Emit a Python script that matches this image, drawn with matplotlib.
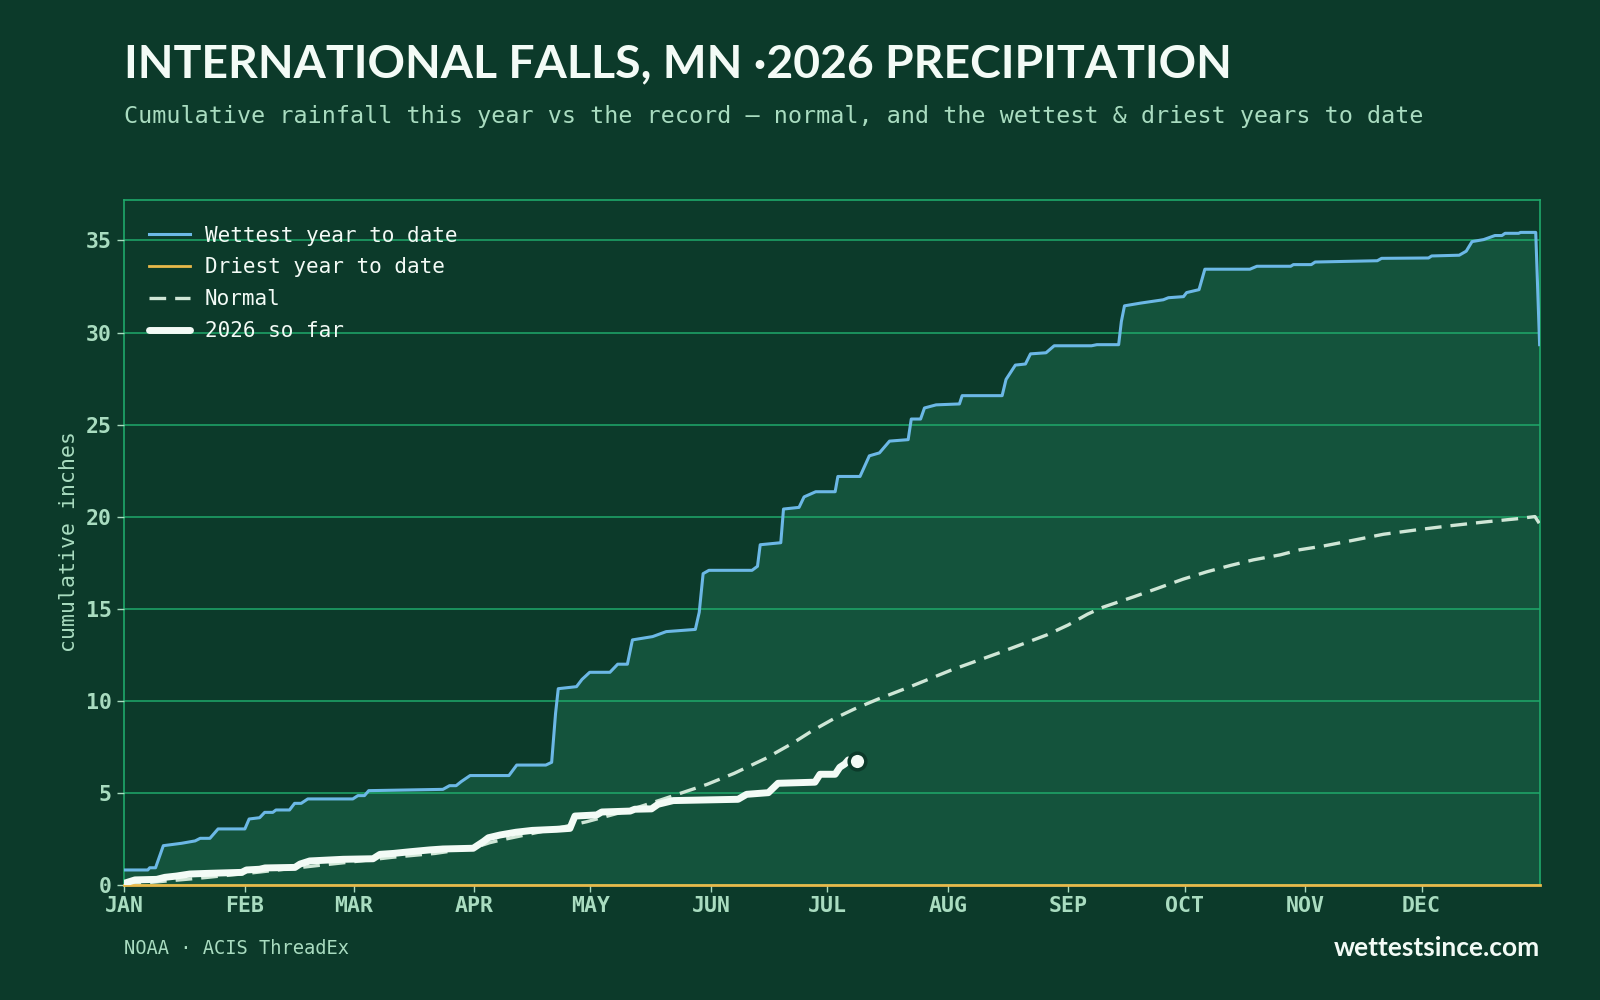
import matplotlib
matplotlib.use("Agg")
import matplotlib.pyplot as plt

# ---------------- data ----------------
month_labels = ["JAN", "FEB", "MAR", "APR", "MAY", "JUN", "JUL", "AUG", "SEP", "OCT", "NOV", "DEC"]
month_start_days = [0, 31, 59, 90, 120, 151, 181, 212, 243, 273, 304, 334]

wettest_days = [0, 6, 6.5, 8, 10, 14.7, 18.2, 19.5, 22, 24.1,
                31, 32.1, 34.8, 36.1, 38.2, 39, 42.5, 43.8, 45.5, 47.2,
                58.8, 60.1, 61.8, 62.9, 82, 83.7, 85.4, 86.7, 89, 99,
                101, 108.5, 110, 111, 111.7, 116.4, 117.8, 119.8, 125, 127,
                129.5, 130.8, 136, 139.5, 147, 148, 149, 150.5, 161.6, 163,
                163.7, 169, 169.7, 173.7, 175, 178, 183, 183.7, 189.4, 191.8,
                194.4, 197, 201.8, 202.6, 205, 206, 209, 215, 215.7, 226,
                227, 229.4, 232, 233.3, 237.3, 239.4, 249, 250.4, 256, 256.7,
                257.5, 261.7, 267.5, 268.8, 272.7, 273.5, 276.7, 278.2, 289.8, 291.6,
                300.3, 301, 305.6, 306.6, 322.6, 323.7, 335.8, 336.6, 343.7, 345.5,
                347, 350, 352.9, 354.7, 355.5, 359, 359.5, 363.4, 364.4]
wettest_vals = [0.80, 0.80, 0.92, 0.92, 2.12, 2.25, 2.38, 2.52, 2.52, 3.03,
                3.03, 3.57, 3.64, 3.93, 3.93, 4.06, 4.06, 4.42, 4.42, 4.66,
                4.66, 4.84, 4.84, 5.11, 5.18, 5.38, 5.38, 5.60, 5.93, 5.93,
                6.50, 6.50, 6.65, 9.30, 10.65, 10.76, 11.15, 11.54, 11.54, 11.98,
                11.98, 13.30, 13.48, 13.75, 13.87, 14.80, 16.90, 17.08, 17.08, 17.30,
                18.47, 18.58, 20.41, 20.50, 21.07, 21.35, 21.35, 22.18, 22.18, 23.30,
                23.46, 24.10, 24.18, 25.30, 25.30, 25.90, 26.07, 26.12, 26.57, 26.57,
                27.45, 28.23, 28.29, 28.84, 28.90, 29.28, 29.28, 29.34, 29.34, 30.60,
                31.45, 31.60, 31.78, 31.89, 31.95, 32.17, 32.33, 33.44, 33.44, 33.60,
                33.60, 33.69, 33.69, 33.83, 33.90, 34.03, 34.05, 34.16, 34.20, 34.42,
                34.94, 35.05, 35.27, 35.27, 35.39, 35.39, 35.44, 35.44, 29.34]

driest_days = [0, 364.4]
driest_vals = [0.0, 0.0]

normal_days = [0, 19, 31, 51, 59, 69, 80, 90, 94, 97,
               110, 119, 130, 138, 150, 157, 165, 172, 177, 182.5,
               188, 194, 202, 213, 225, 237.5, 243, 248, 252, 260,
               266, 272.6, 278.7, 284.7, 290.7, 297.6, 302.7, 308.7, 315.6, 324.2,
               332.8, 341.3, 349.9, 358.5, 363.2, 364.3]
normal_vals = [0.0, 0.35, 0.6, 1.07, 1.25, 1.49, 1.7, 2.0, 2.28, 2.43,
               3.0, 3.42, 4.05, 4.6, 5.45, 6.05, 6.85, 7.68, 8.35, 9.0,
               9.55, 10.08, 10.73, 11.67, 12.58, 13.57, 14.11, 14.7, 15.08, 15.65,
               16.1, 16.6, 17.0, 17.34, 17.65, 17.92, 18.2, 18.4, 18.68, 19.04,
               19.28, 19.5, 19.7, 19.88, 20.0, 19.64]

y2026_days = [0, 2.7, 8.3, 10.4, 13.4, 16.8, 22, 30.2, 31.4, 34.8,
              36.2, 43.9, 45.2, 47.7, 56.3, 64, 65.8, 69.3, 73.5, 78.6,
              82, 89.8, 92.4, 93.7, 96.7, 100.8, 105, 111.3, 114.7, 116,
              121.6, 122.9, 130.2, 131.4, 135.7, 137.4, 141.3, 158, 160.2, 165.8,
              168.3, 177.8, 179.1, 183, 184.2, 185.5, 186.4, 188.6]
y2026_vals = [0.08, 0.26, 0.29, 0.40, 0.47, 0.58, 0.62, 0.67, 0.80, 0.84,
              0.91, 0.94, 1.12, 1.29, 1.38, 1.41, 1.65, 1.70, 1.79, 1.89,
              1.94, 1.98, 2.34, 2.55, 2.70, 2.85, 2.95, 3.01, 3.06, 3.73,
              3.79, 3.95, 4.00, 4.10, 4.12, 4.37, 4.57, 4.64, 4.91, 5.00,
              5.51, 5.57, 6.00, 6.00, 6.38, 6.56, 6.78, 6.70]

y_ticks = [0, 5, 10, 15, 20, 25, 30, 35]

# ---------------- style ----------------
BG = "#0c3a2a"
FILL = "#14533c"
GRID = "#1fa86a"
TICK = "#a9dcc0"
WHITE = "#f3fbf6"
BLUE = "#6cb8e6"
GOLD = "#e8b84a"
NORMAL = "#cfe6d6"
MONO = "DejaVu Sans Mono"

fig = plt.figure(figsize=(16, 10), dpi=100, facecolor=BG)
ax = fig.add_axes([0.0778, 0.1153, 0.8847, 0.6847])
ax.set_facecolor(BG)

ax.fill_between(wettest_days, 0, wettest_vals, color=FILL, lw=0, zorder=1)
ax.grid(axis="y", color=GRID, lw=1.1, zorder=2)
ax.set_axisbelow(False)

ax.plot(wettest_days, wettest_vals, color=BLUE, lw=2.2, zorder=4,
        label="Wettest year to date")
ax.plot(driest_days, driest_vals, color=GOLD, lw=2.0, zorder=5, clip_on=False,
        label="Driest year to date")
ax.plot(normal_days, normal_vals, color=NORMAL, lw=2.4, ls=(0, (5, 2.7)), zorder=4,
        label="Normal")
ax.plot(y2026_days, y2026_vals, color=WHITE, lw=5, zorder=6, solid_capstyle="round",
        solid_joinstyle="round", label="2026 so far")
ax.plot([y2026_days[-1]], [y2026_vals[-1]], "o", ms=12, mfc=WHITE, mec="#0c3a2a",
        mew=2.5, zorder=7)

ax.set_xlim(0, 364.5)
ax.set_ylim(0, 37.2)
ax.set_xticks(month_start_days)
ax.set_xticklabels(month_labels)
ax.set_yticks(y_ticks)
ax.tick_params(axis="both", colors=TICK, length=5, width=1, labelsize=15.5, pad=4)
for lab in ax.get_xticklabels() + ax.get_yticklabels():
    lab.set_fontfamily(MONO)
    lab.set_fontweight("bold")
    lab.set_color(TICK)
ax.tick_params(axis="x", pad=3)
for s in ax.spines.values():
    s.set_color(GRID)
    s.set_linewidth(1.2)

leg = ax.legend(loc="upper left", bbox_to_anchor=(0.004, 0.99), frameon=False,
                prop={"family": MONO, "size": 15.1}, handlelength=1.95,
                handletextpad=0.72, labelspacing=0.56)
for t in leg.get_texts():
    t.set_color(WHITE)

fig.text(0.0778, 0.9225, "INTERNATIONAL FALLS, MN \u00b72026 PRECIPITATION",
         family="Lato", weight="bold", size=33.4, color=WHITE, va="baseline", ha="left")
fig.text(0.0778, 0.884,
         "Cumulative rainfall this year vs the record \u2014 normal, and the wettest & driest years to date",
         family=MONO, size=16.8, color=TICK, va="center", ha="left")
fig.text(0.043, 0.459, "cumulative inches", family=MONO, size=15.5, color=TICK,
         rotation=90, va="center", ha="center")
fig.text(0.0778, 0.052, "NOAA \u00b7 ACIS ThreadEx", family=MONO, size=13.5, color=TICK,
         va="center", ha="left")
fig.text(0.9625, 0.052, "wettestsince.com", family="Lato", weight="bold", size=19,
         color=WHITE, va="center", ha="right")

fig.savefig("out.png", dpi=100, facecolor=BG)
